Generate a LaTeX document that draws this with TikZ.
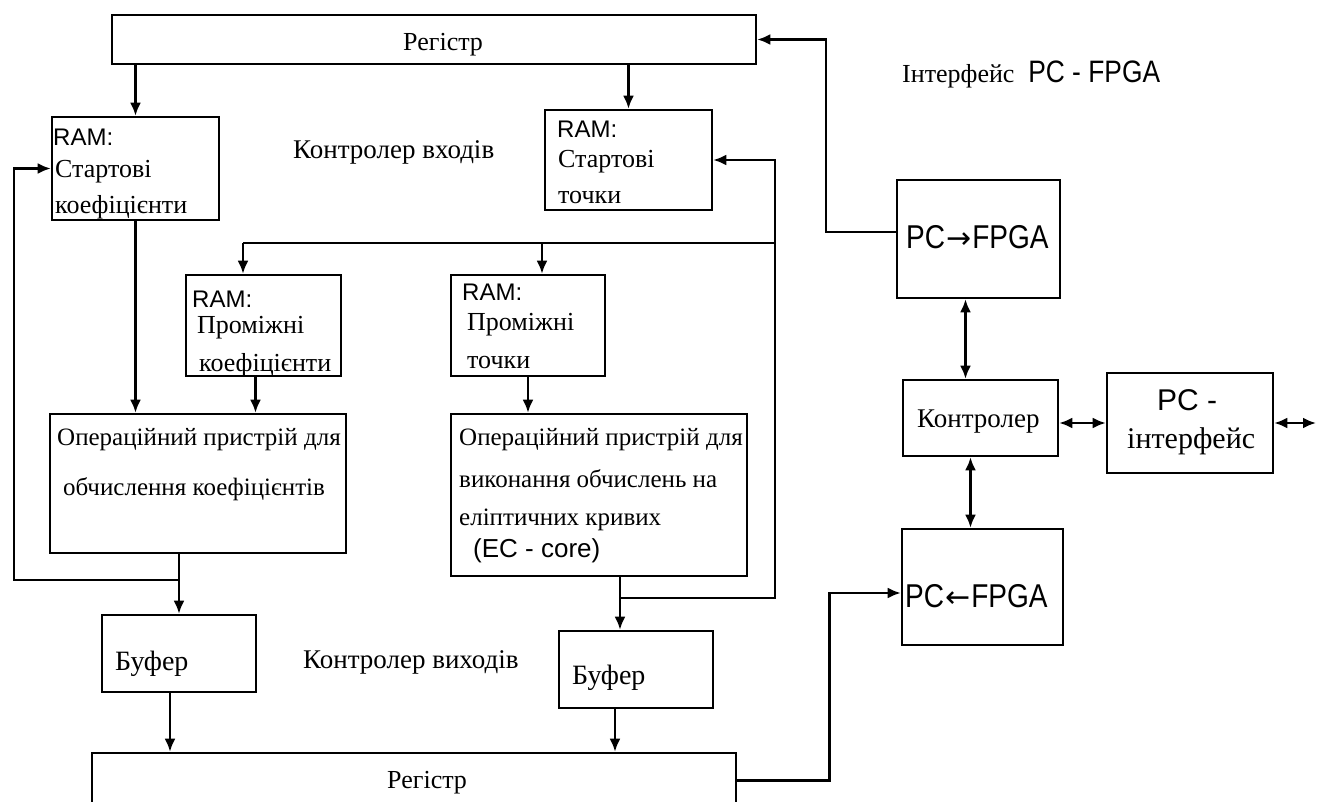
\documentclass[tikz,border=0pt]{standalone}
\usepackage{fontspec}
\setmainfont{Liberation Serif}
\setsansfont{Liberation Sans}
\newfontfamily\pcsans[FakeStretch=0.85]{Liberation Sans}
\newfontfamily\arrowfont{DejaVu Sans}
\usetikzlibrary{arrows.meta,fit}
\begin{document}
\begin{tikzpicture}[x=1pt,y=-1pt,
  blk/.style={draw, line width=2.6pt, inner sep=0pt},
  wire/.style={line width=2.4pt},
  tip/.tip={Latex[length=13pt,width=11pt]},
  arr/.style={wire, -tip},
  darr/.style={wire, tip-tip},
  txt/.style={inner sep=0pt, anchor=base west, font=\fontsize{26}{30}\selectfont},
  optxt/.style={txt, font=\fontsize{25}{30}\selectfont},
  ram/.style={inner sep=0pt, anchor=base west, font=\sffamily\fontsize{24}{28}\selectfont},
  pc/.style={inner sep=0pt, anchor=base west, font=\pcsans\fontsize{33}{36}\selectfont},
]
\useasboundingbox (0,0) rectangle (1317,801);
\fill[white] (0,0) rectangle (1317,801);
\clip (0,0) rectangle (1317,801);

% ---- blocks ----
\node[blk, fit={(112,15) (756,64)}]    (reg1) {};
\node[blk, fit={(52,117) (219,220)}]   (ram1) {};
\node[blk, fit={(545,110) (712,210)}]  (ram2) {};
\node[blk, fit={(186,275) (341,376)}]  (ram3) {};
\node[blk, fit={(451,275) (605,376)}]  (ram4) {};
\node[blk, fit={(50,414) (346,553)}]   (op1) {};
\node[blk, fit={(451,414) (747,576)}]  (op2) {};
\node[blk, fit={(102,615) (256,692)}]  (buf1) {};
\node[blk, fit={(559,631) (713,708)}]  (buf2) {};
\node[blk, fit={(92,753) (736,808)}]   (reg2) {};
\node[blk, fit={(897,180) (1060,298)}] (tx) {};
\node[blk, fit={(903,380) (1058,456)}] (ctrl) {};
\node[blk, fit={(1107,373) (1273,473)}] (pci) {};
\node[blk, fit={(902,529) (1063,645)}] (rx) {};

% ---- texts ----
\node[txt] (reg1-t) at (403,50) {Регістр};
\node[txt] (reg2-t) at (387,788) {Регістр};
\node[txt, font=\fontsize{27}{30}\selectfont] (inctl) at (293,158) {Контролер входів};
\node[txt, font=\fontsize{27}{30}\selectfont] (outctl) at (303,668) {Контролер виходів};
\node[txt] (title) at (902,82) {Інтерфейс {\pcsans\fontsize{31}{32}\selectfont\ PC - FPGA}};

\node[ram] (ram1-a) at (53,145) {RAM:};
\node[txt] (ram1-b) at (55,177) {Стартові};
\node[txt] (ram1-c) at (55,213) {коефіцієнти};

\node[ram] (ram2-a) at (557,137) {RAM:};
\node[txt] (ram2-b) at (558,167) {Стартові};
\node[txt] (ram2-c) at (558,203) {точки};

\node[ram] (ram3-a) at (192,307) {RAM:};
\node[txt] (ram3-b) at (197,333) {Проміжні};
\node[txt] (ram3-c) at (199,371) {коефіцієнти};

\node[ram] (ram4-a) at (462,300) {RAM:};
\node[txt] (ram4-b) at (467,330) {Проміжні};
\node[txt] (ram4-c) at (467,368) {точки};

\node[optxt] (op1-a) at (57,445) {Операційний пристрій для};
\node[optxt] (op1-b) at (63,495) {обчислення коефіцієнтів};

\node[optxt] (op2-a) at (459,445) {Операційний пристрій для};
\node[optxt] (op2-b) at (459,487) {виконання обчислень на};
\node[optxt] (op2-c) at (459,525) {еліптичних кривих};
\node[ram, font=\sffamily\fontsize{26}{28}\selectfont] (op2-d) at (473,557) {(EC - core)};

\node[txt, font=\fontsize{28}{30}\selectfont] (buf1-t) at (115,670) {Буфер};
\node[txt, font=\fontsize{28}{30}\selectfont] (buf2-t) at (572,684) {Буфер};

\node[pc] (tx-t) at (906,248) {PC{\arrowfont\fontsize{30}{30}\selectfont\kern1pt→\kern1pt}FPGA};
\node[pc] (rx-t) at (905,607) {PC{\arrowfont\fontsize{30}{30}\selectfont\kern1pt←\kern1pt}FPGA};
\node[txt, font=\fontsize{27}{30}\selectfont] (ctrl-t) at (917,427) {Контролер};
\node[inner sep=0pt, anchor=base west, font=\sffamily\fontsize{30}{32}\selectfont] (pci-a) at (1157,410) {PC -};
\node[txt, font=\fontsize{30}{32}\selectfont] (pci-b) at (1127,448) {інтерфейс};

% ---- connectors ----
% top register loads both start RAMs
\draw[arr] (ram1.north |- reg1.south) -- (ram1.north);
\draw[arr] (ram2.north |- reg1.south) -- (ram2.north);
% PC -> FPGA channel writes the top register
\draw[arr] ([yshift=7pt]tx.west) -- ++(-70,0) |- (reg1.east);

% start and intermediate coefficients into the coefficient unit
\draw[arr] (ram1.south) -- (ram1.south |- op1.north);
\coordinate (r3o) at ([xshift=-8pt]ram3.south);
\draw[arr] (r3o) -- (r3o |- op1.north);
% intermediate points into the EC core
\draw[arr] (ram4.south) -- (ram4.south |- op2.north);

% feedback bus to the intermediate RAMs
\coordinate (busL) at (243,243);
\coordinate (busM) at (542,243);
\coordinate (busR) at (775,243);
\draw[wire] (busL) -- (busR);
\draw[arr] (busL) -- (busL |- ram3.north);
\draw[arr] (busM) -- (busM |- ram4.north);

% EC core output: to buffer and back to the point RAMs
\coordinate (j2) at (620,598);
\draw[arr] (j2 |- op2.south) -- (j2 |- buf2.north);
\draw[arr] (j2) -| (busR) |- (ram2.east);

% coefficient unit output: to buffer and back to start coefficients
\coordinate (j1) at (179,580);
\coordinate (fbL) at (14,580);
\draw[arr] (op1.south -| buf1.north) -- (buf1.north);
\draw[arr] (j1) -- (fbL) |- (ram1.west);

% buffers into the bottom register
\coordinate (b1o) at ([xshift=-9pt]buf1.south);
\draw[arr] (b1o) -- (b1o |- reg2.north);
\coordinate (b2o) at ([xshift=-21pt]buf2.south);
\draw[arr] (b2o) -- (b2o |- reg2.north);

% bottom register read back to the PC
\draw[arr] (reg2.east) -- ++(92,0) |- ([yshift=-6pt]rx.west);

% interface side
\coordinate (t1) at ([xshift=-13pt]tx.south);
\draw[darr] (t1) -- (t1 |- ctrl.north);
\coordinate (t2) at ([xshift=-10pt]ctrl.south);
\draw[darr] (t2) -- (t2 |- rx.north);
\draw[darr] (ctrl.east |- pci.west) -- (pci.west);
\coordinate (ext) at (1316,423);
\draw[darr] (pci.east) -- (ext);
\end{tikzpicture}
\end{document}
